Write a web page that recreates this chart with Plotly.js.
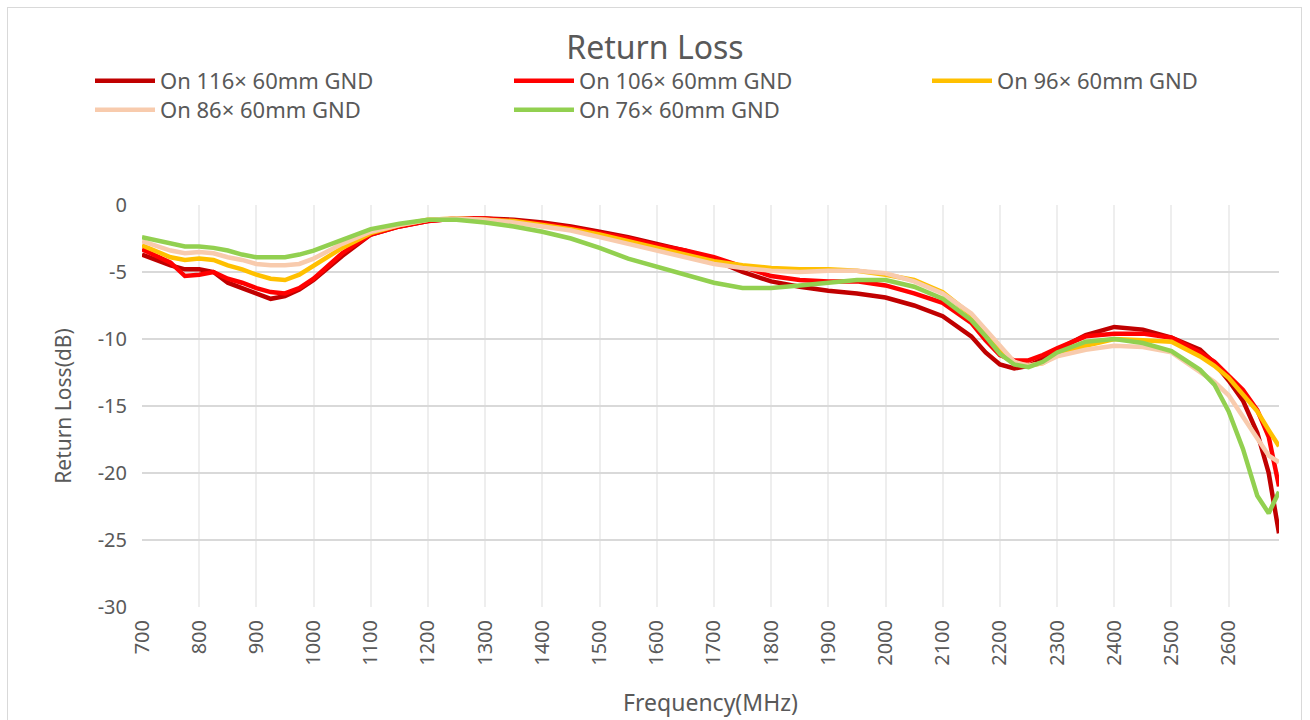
<!DOCTYPE html>
<html>
<head>
<meta charset="utf-8">
<script src="https://cdn.plot.ly/plotly-3.0.1.min.js"></script>
<style>
  html, body { margin: 0; padding: 0; background: #ffffff; overflow: hidden; }
  #frame { position: absolute; left: 7px; top: 7px; width: 1295px; height: 740px; border: 1px solid #D9D9D9; box-sizing: border-box; pointer-events: none; }
  #chart { position: absolute; left: 0; top: 0; width: 1310px; height: 720px; }
</style>
</head>
<body>
<div id="chart"></div>
<div id="frame"></div>
<script>
// Frequency points (MHz)
const freq = [700,750,775,800,825,850,875,900,925,950,975,1000,1050,1100,1150,1200,1250,1300,1350,1400,1450,1500,1550,1600,1650,1700,1750,1800,1850,1900,1950,2000,2050,2100,2150,2175,2200,2225,2250,2275,2300,2350,2400,2450,2500,2550,2575,2600,2625,2650,2670,2688];

// Return loss (dB) per ground size
const gnd116 = [-3.7,-4.5,-4.8,-4.8,-5.0,-5.8,-6.2,-6.6,-7.0,-6.8,-6.3,-5.6,-3.8,-2.2,-1.6,-1.2,-1.0,-1.0,-1.1,-1.3,-1.6,-2.0,-2.4,-2.9,-3.4,-4.1,-5.0,-5.7,-6.1,-6.4,-6.6,-6.9,-7.5,-8.3,-9.8,-11.0,-11.9,-12.2,-12.0,-11.5,-10.8,-9.7,-9.1,-9.3,-9.9,-10.8,-11.8,-13.1,-14.6,-17.0,-20.0,-24.5];
const gnd106 = [-3.3,-4.3,-5.3,-5.2,-5.0,-5.5,-5.8,-6.2,-6.5,-6.6,-6.2,-5.5,-3.6,-2.2,-1.6,-1.2,-1.0,-1.0,-1.2,-1.4,-1.7,-2.1,-2.5,-3.0,-3.4,-3.9,-4.6,-5.3,-5.6,-5.7,-5.7,-6.0,-6.6,-7.3,-8.8,-10.1,-11.2,-11.6,-11.6,-11.2,-10.7,-9.8,-9.6,-9.6,-9.9,-11.0,-11.7,-12.7,-13.8,-15.3,-17.3,-21.0];
const gnd96  = [-3.0,-3.9,-4.1,-4.0,-4.1,-4.5,-4.8,-5.2,-5.5,-5.6,-5.2,-4.5,-3.2,-2.1,-1.5,-1.1,-1.0,-1.1,-1.2,-1.5,-1.8,-2.2,-2.7,-3.2,-3.7,-4.2,-4.5,-4.7,-4.8,-4.8,-4.9,-5.2,-5.6,-6.5,-8.2,-9.5,-10.8,-11.8,-12.0,-11.8,-11.2,-10.5,-10.0,-10.1,-10.2,-11.3,-12.0,-12.9,-14.2,-15.4,-16.8,-18.0];
const gnd86  = [-2.7,-3.4,-3.6,-3.5,-3.6,-3.9,-4.1,-4.4,-4.5,-4.5,-4.4,-4.0,-2.9,-2.0,-1.5,-1.1,-1.0,-1.1,-1.3,-1.6,-1.9,-2.4,-2.9,-3.4,-3.9,-4.4,-4.7,-4.9,-5.0,-4.9,-4.9,-5.1,-5.7,-6.6,-8.1,-9.3,-10.6,-11.7,-12.0,-11.8,-11.3,-10.8,-10.5,-10.6,-11.0,-12.4,-13.2,-14.2,-15.8,-17.4,-18.7,-19.2];
const gnd76  = [-2.4,-2.9,-3.1,-3.1,-3.2,-3.4,-3.7,-3.9,-3.9,-3.9,-3.7,-3.4,-2.6,-1.8,-1.4,-1.1,-1.1,-1.3,-1.6,-2.0,-2.5,-3.2,-4.0,-4.6,-5.2,-5.8,-6.2,-6.2,-6.0,-5.8,-5.6,-5.6,-6.1,-7.0,-8.6,-9.8,-11.1,-11.9,-12.1,-11.7,-11.0,-10.2,-10.0,-10.3,-10.9,-12.3,-13.4,-15.4,-18.2,-21.7,-23.0,-21.4];

const seriesNames = ['On 116× 60mm GND','On 106× 60mm GND','On 96× 60mm GND','On 86× 60mm GND','On 76× 60mm GND'];
const seriesValues = [gnd116, gnd106, gnd96, gnd86, gnd76];
const seriesColors = ['#C00000','#FF0000','#FFC000','#F8CBAD','#92D050'];

// Tick labels
const yTickVals = [0, -5, -10, -15, -20, -25, -30];
const yTickText = ['0', '-5', '-10', '-15', '-20', '-25', '-30'];

const FONT = 'Noto Sans, DejaVu Sans, sans-serif';
const GREY = '#595959';

const legendIds = ['legend','legend2','legend3','legend4','legend5'];
// legend slot: [left px, top px] in a 3-column grid
const legendSlots = [[90, 60], [509, 60], [927, 60], [90, 89], [509, 89]];
const PLOT_L = 142, PLOT_W = 1137;

const traces = seriesValues.map((vals, i) => ({
  type: 'scatter', mode: 'lines',
  x: freq, y: vals,
  name: seriesNames[i],
  legend: legendIds[i],
  line: { color: seriesColors[i], width: 4.5 },
  hoverinfo: 'x+y+name'
}));

const layout = {
  width: 1310, height: 720,
  paper_bgcolor: '#ffffff', plot_bgcolor: '#ffffff',
  margin: { l: 142, r: 31, t: 205, b: 113 },
  title: {
    text: 'Return Loss',
    font: { family: FONT, size: 32, color: GREY },
    x: 0.5, xref: 'container', xanchor: 'center',
    y: 1 - 48/720, yref: 'container', yanchor: 'middle'
  },
  showlegend: true,
  xaxis: {
    range: [700, 2688],
    tick0: 700, dtick: 100,
    tickangle: -90,
    showgrid: true, gridcolor: '#EEEEEE', gridwidth: 2,
    zeroline: false, showline: false,
    ticks: '', ticklabelstandoff: 8,
    tickfont: { family: FONT, size: 20, color: GREY },
    title: { text: 'Frequency(MHz)', font: { family: FONT, size: 23, color: GREY }, standoff: 30 },
    automargin: false, fixedrange: true
  },
  yaxis: {
    range: [-30, 0],
    tickmode: 'array', tickvals: yTickVals, ticktext: yTickText,
    showgrid: true, gridcolor: '#D9D9D9', gridwidth: 2,
    zeroline: false, showline: false,
    ticks: '', ticklabelstandoff: 14,
    tickfont: { family: FONT, size: 20, color: GREY },
    title: { text: 'Return Loss(dB)', font: { family: FONT, size: 21, color: GREY }, standoff: 20 },
    automargin: false, fixedrange: true
  }
};

legendIds.forEach((id, i) => {
  layout[id] = {
    orientation: 'v',
    xref: 'paper', yref: 'container',
    xanchor: 'left', yanchor: 'top',
    x: (legendSlots[i][0] - PLOT_L) / PLOT_W,
    y: 1 - legendSlots[i][1] / 720,
    itemwidth: 60,
    bgcolor: 'rgba(0,0,0,0)',
    borderwidth: 0,
    font: { family: FONT, size: 22, color: GREY }
  };
});

Plotly.newPlot('chart', traces, layout, { displayModeBar: false, responsive: false });
</script>
</body>
</html>
